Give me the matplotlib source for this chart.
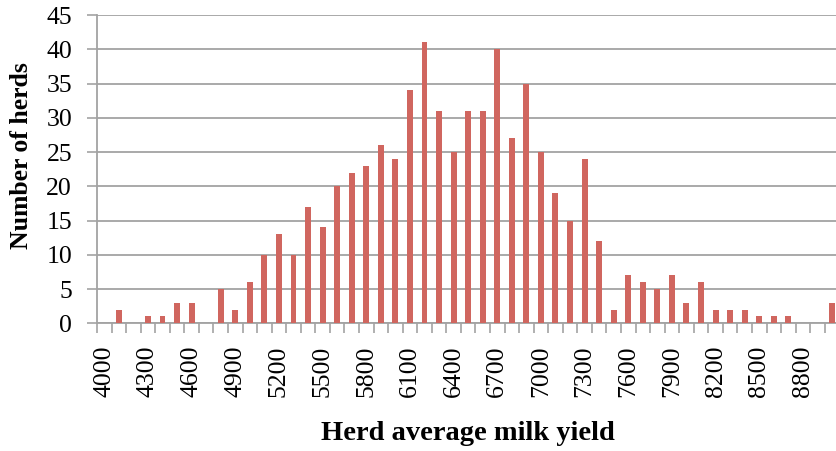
import matplotlib
matplotlib.use("Agg")
import matplotlib.pyplot as plt
from matplotlib.ticker import FixedLocator, NullFormatter, FixedFormatter

# Herd average milk yield classes (kg) and number of herds in each class
yield_classes = list(range(4000, 9001, 100))
herd_counts = [0, 2, 0, 1, 1, 3, 3, 0, 5, 2,
               6, 10, 13, 10, 17, 14, 20, 22, 23, 26,
               24, 34, 41, 31, 25, 31, 31, 40, 27, 35,
               25, 19, 15, 24, 12, 2, 7, 6, 5, 7,
               3, 6, 2, 2, 2, 1, 1, 1, 0, 0,
               3]
y_ticks = [0, 5, 10, 15, 20, 25, 30, 35, 40, 45]

plt.rcParams['font.family'] = ['Liberation Serif', 'DejaVu Serif']

W, H = 836, 451
fig = plt.figure(figsize=(W / 100, H / 100), dpi=100)
left, right, top, bottom = 97, 839.3, 15, 323.3
ax = fig.add_axes([left / W, 1 - bottom / H, (right - left) / W, (bottom - top) / H])

grid_col = '#a3a3a3'
bar_col = '#D0665F'

pos = list(range(len(yield_classes)))
ax.bar(pos, herd_counts, width=0.41, color=bar_col, zorder=3)

ax.set_xlim(-0.5, len(yield_classes) - 0.5)
ax.set_ylim(0, 45)

# y axis
ax.set_yticks(y_ticks)
ax.set_yticklabels([str(v) for v in y_ticks])
ax.yaxis.grid(True, color=grid_col, linewidth=1.3, zorder=0)
ax.tick_params(axis='y', length=7, width=1.2, color=grid_col, pad=11, labelsize=18.5)

# x axis: tick marks between classes, labels on every third class
ax.xaxis.set_major_locator(FixedLocator([p - 0.5 for p in range(len(yield_classes) + 1)]))
ax.xaxis.set_major_formatter(NullFormatter())
lab_pos = [p for p in pos if p % 3 == 0]
ax.xaxis.set_minor_locator(FixedLocator(lab_pos))
ax.xaxis.set_minor_formatter(FixedFormatter([str(yield_classes[p]) for p in lab_pos]))
ax.tick_params(axis='x', which='major', length=7.5, width=1.2, color=grid_col)
ax.tick_params(axis='x', which='minor', length=0, pad=16, labelsize=18.5, labelrotation=90)

for s in ('top', 'right'):
    ax.spines[s].set_visible(False)
for s in ('left', 'bottom'):
    ax.spines[s].set_color(grid_col)
    ax.spines[s].set_linewidth(1.3)

ax.set_xlabel('Herd average milk yield', fontsize=20.5, fontweight='bold', va='center')
ax.xaxis.set_label_coords((468 - left) / (right - left), (bottom - 434) / (bottom - top))
ax.set_ylabel('Number of herds', fontsize=18.5, fontweight='bold', va='center')
ax.yaxis.set_label_coords((22 - left) / (right - left), (bottom - 156) / (bottom - top))

fig.savefig('out.png', dpi=100)
